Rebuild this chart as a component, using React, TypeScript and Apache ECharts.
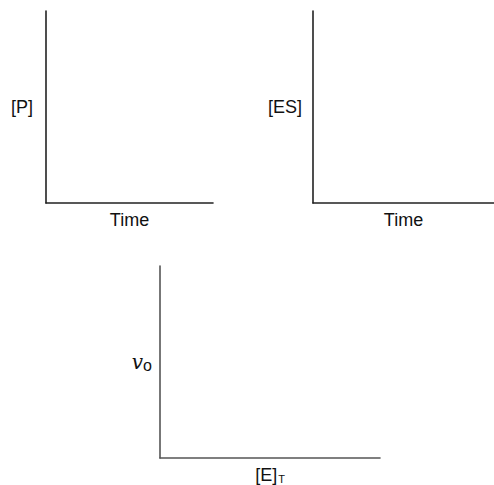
import React, { useEffect, useRef } from "react";
import * as echarts from "echarts";

// Axis titles for the three empty sketch plots
const xTitles = ["{t|Time}", "{t|Time}", "{t|[E]}{s|T}"];
const yTitles = ["{t|[P]}", "{t|[ES]}", "{v|v}{o|o}"];
// Each plot has no data points (blank axes for sketching)
const seriesValues: number[][] = [[], [], []];

const FONT = "'Liberation Sans', Arial, sans-serif";
const TEXT = "#111";

export default function App() {
  const ref = useRef<HTMLDivElement>(null);
  useEffect(() => {
    if (!ref.current) return;
    const chart = echarts.init(ref.current, undefined, { renderer: "svg" });
    const grids = [
      { left: 46, top: 11, width: 167, height: 192 },
      { left: 313, top: 11, width: 181, height: 192 },
      { left: 160, top: 266, width: 220, height: 192 },
    ];
    const axisColors = ["#222", "#222", "#555"];
    const yGaps = [13, 11, 8];
    const rich = {
      t: { fontSize: 18, lineHeight: 18, fontFamily: FONT, color: TEXT },
      s: { fontSize: 11, lineHeight: 9, verticalAlign: "bottom", fontFamily: FONT, color: TEXT, padding: [0, 0, 0, 1] },
      v: { fontSize: 20, lineHeight: 22, fontFamily: "'DejaVu Serif', serif", fontStyle: "italic", color: TEXT },
      o: { fontSize: 16, lineHeight: 12, verticalAlign: "bottom", fontFamily: FONT, color: TEXT },
    };
    const axisBase = (i: number) => ({
      type: "value" as const,
      gridIndex: i,
      min: 0,
      max: 1,
      axisLine: { show: true, onZero: false, lineStyle: { color: axisColors[i], width: 1.6 } },
      axisTick: { show: false },
      axisLabel: { show: false },
      splitLine: { show: false },
      nameLocation: "middle" as const,
      nameTextStyle: { fontSize: 18, fontFamily: FONT, color: TEXT, rich },
    });
    chart.setOption({
      animation: false,
      grid: grids.map((g) => ({ ...g, containLabel: false })),
      xAxis: grids.map((_, i) => ({
        ...axisBase(i),
        name: xTitles[i],
        nameGap: 8,
      })),
      yAxis: grids.map((_, i) => ({
        ...axisBase(i),
        name: yTitles[i],
        nameRotate: 0,
        nameGap: yGaps[i],
      })),
      series: seriesValues.map((d, i) => ({
        type: "line",
        xAxisIndex: i,
        yAxisIndex: i,
        data: d,
        showSymbol: false,
      })),
    });
    return () => chart.dispose();
  }, []);
  return (
    <div
      ref={ref}
      style={{ position: "absolute", left: 0, top: 0, width: 494, height: 485, overflow: "visible" }}
    />
  );
}
